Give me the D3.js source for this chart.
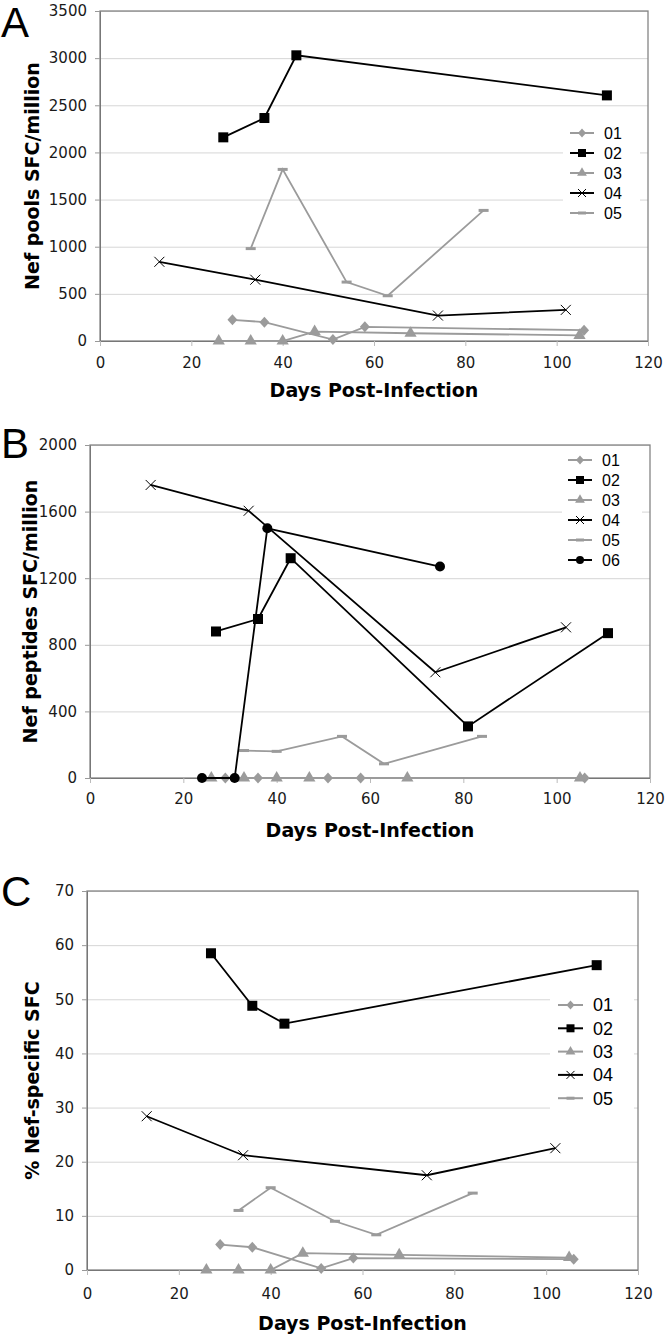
<!DOCTYPE html>
<html>
<head>
<meta charset="utf-8">
<script src="https://cdn.jsdelivr.net/npm/d3@7"></script>
<style>
  body { margin: 0; background: #fff; }
</style>
</head>
<body>
<div id="vis"></div>
<script>
// tick labels
const DAY_TICKS = [0, 20, 40, 60, 80, 100, 120];
const POOL_TICKS = [0, 500, 1000, 1500, 2000, 2500, 3000, 3500];
const PEPTIDE_TICKS = [0, 400, 800, 1200, 1600, 2000];
const PERCENT_TICKS = [0, 10, 20, 30, 40, 50, 60, 70];

// A: Nef pools SFC/million, [day, value]
const POOLS_01 = [[29, 225], [36, 200], [51, 15], [58, 150], [106, 115]];
const POOLS_02 = [[27, 2160], [36, 2365], [43, 3030], [111, 2605]];
const POOLS_03 = [[26, 0], [33, 0], [40, 0], [47, 100], [68, 82], [105, 60]];
const POOLS_04 = [[13, 840], [34, 650], [74, 270], [102, 330]];
const POOLS_05 = [[33, 980], [40, 1820], [54, 625], [63, 480], [84, 1385]];

// B: Nef peptides SFC/million
const PEPTIDES_01 = [[29, 0], [36, 0], [51, 0], [58, 0], [106, 0]];
const PEPTIDES_02 = [[27, 880], [36, 955], [43, 1320], [81, 310], [111, 870]];
const PEPTIDES_03 = [[26, 0], [33, 0], [40, 0], [47, 0], [68, 0], [105, 0]];
const PEPTIDES_04 = [[13, 1760], [34, 1605], [74, 635], [102, 905]];
const PEPTIDES_05 = [[33, 165], [40, 160], [54, 250], [63, 85], [84, 250]];
const PEPTIDES_06 = [[24, 0], [31, 0], [38, 1500], [75, 1270]];

// C: % Nef-specific SFC
const PERCENT_01 = [[29, 4.7], [36, 4.2], [51, 0.3], [58, 2.2], [106, 2.0]];
const PERCENT_02 = [[27, 58.5], [36, 48.8], [43, 45.5], [111, 56.3]];
const PERCENT_03 = [[26, 0], [33, 0], [40, 0], [47, 3.1], [68, 2.8], [105, 2.3]];
const PERCENT_04 = [[13, 28.4], [34, 21.2], [74, 17.5], [102, 22.5]];
const PERCENT_05 = [[33, 11], [40, 15.2], [54, 9], [63, 6.5], [84, 14.2]];

const GREY = "#9b9b9b";
const STYLE = {
  "01": {color: GREY, marker: "diamond"},
  "02": {color: "#000", marker: "square"},
  "03": {color: GREY, marker: "triangle"},
  "04": {color: "#000", marker: "x"},
  "05": {color: GREY, marker: "dash"},
  "06": {color: "#000", marker: "circle"}
};

const svg = d3.select("#vis")
              .append("svg")
                .attr("width", 666)
                .attr("height", 1337);

const PANELS = [
  {letter: "A", letterY: 37, left: 100, right: 648, top: 11, bottom: 341,
   ticks: POOL_TICKS, yTitle: "Nef pools SFC/million", titleX: 32, labelPad: 11, xTitleY: 397,
   series: {"01": POOLS_01, "02": POOLS_02, "03": POOLS_03, "04": POOLS_04, "05": POOLS_05},
   legend: {x: 570, y: 133, step: 20, box: [563, 122, 77, 102], font: 16}},
  {letter: "B", letterY: 458, left: 90, right: 650, top: 445, bottom: 778,
   ticks: PEPTIDE_TICKS, yTitle: "Nef peptides SFC/million", titleX: 30, labelPad: 10, xTitleY: 837,
   series: {"01": PEPTIDES_01, "02": PEPTIDES_02, "03": PEPTIDES_03, "04": PEPTIDES_04,
            "05": PEPTIDES_05, "06": PEPTIDES_06},
   legend: {x: 568, y: 460, step: 20, box: [562, 449, 80, 121], font: 16}},
  {letter: "C", letterY: 906, left: 87, right: 638, top: 891, bottom: 1270,
   ticks: PERCENT_TICKS, yTitle: "% Nef-specific SFC", titleX: 32, labelPad: 13, xTitleY: 1330,
   series: {"01": PERCENT_01, "02": PERCENT_02, "03": PERCENT_03, "04": PERCENT_04, "05": PERCENT_05},
   legend: {x: 558, y: 1005, step: 23.3, box: [550, 993, 84, 117], font: 18}}
];

function drawMarker(g, type, cx, cy, s, color) {
  const h = s / 2;
  if (type === "square") {
    g.append("rect").attr("x", cx - h).attr("y", cy - h)
      .attr("width", s).attr("height", s).attr("fill", color);
  } else if (type === "diamond") {
    g.append("path")
      .attr("d", `M${cx},${cy - h - 0.5}L${cx + h},${cy}L${cx},${cy + h + 0.5}L${cx - h},${cy}Z`)
      .attr("fill", color);
  } else if (type === "triangle") {
    g.append("path").attr("transform", `translate(${cx},${cy})`)
      .attr("d", d3.symbol(d3.symbolTriangle, s * s * 0.65)()).attr("fill", color);
  } else if (type === "circle") {
    g.append("circle").attr("cx", cx).attr("cy", cy).attr("r", h).attr("fill", color);
  } else if (type === "x") {
    g.append("path")
      .attr("d", `M${cx - h},${cy - h}L${cx + h},${cy + h}M${cx - h},${cy + h}L${cx + h},${cy - h}`)
      .attr("stroke", color).attr("stroke-width", 1).attr("fill", "none");
  } else if (type === "dash") {
    g.append("rect").attr("x", cx - h).attr("y", cy - 1.5)
      .attr("width", s).attr("height", 3).attr("fill", color);
  }
}

PANELS.forEach((p) => {
  const X_SCALE = d3.scaleLinear().domain([0, 120]).range([p.left, p.right]);
  const Y_SCALE = d3.scaleLinear().domain([0, d3.max(p.ticks)]).range([p.bottom, p.top]);
  const g = svg.append("g");

  // gridlines
  g.append("g")
    .attr("transform", "translate(" + p.left + ",0)")
    .call(d3.axisLeft(Y_SCALE).tickValues(p.ticks).tickSize(-(p.right - p.left)).tickFormat(""))
    .call((a) => a.select(".domain").remove())
    .call((a) => a.selectAll("line").attr("stroke", "#d6d6d6"));

  // plot border
  g.append("rect")
    .attr("x", p.left).attr("y", p.top)
    .attr("width", p.right - p.left).attr("height", p.bottom - p.top)
    .attr("fill", "none").attr("stroke", "#858585").attr("stroke-width", 1.3);

  // y axis
  const yAxis = g.append("g")
    .attr("transform", "translate(" + p.left + ",0)")
    .call(d3.axisLeft(Y_SCALE).tickValues(p.ticks).tickFormat(d3.format("d"))
            .tickSize(5).tickPadding(8).tickSizeOuter(0));
  yAxis.select(".domain").attr("stroke", "#777");
  yAxis.selectAll("line").attr("stroke", "#999");
  yAxis.selectAll("text").attr("font-family", "DejaVu Sans").attr("font-size", 15).attr("fill", "#1a1a1a");

  // x axis
  const xAxis = g.append("g")
    .attr("transform", "translate(0," + p.bottom + ")")
    .call(d3.axisBottom(X_SCALE).tickValues(DAY_TICKS).tickFormat(d3.format("d"))
            .tickSize(5).tickPadding(p.labelPad).tickSizeOuter(0));
  xAxis.select(".domain").attr("stroke", "#777");
  xAxis.selectAll("line").attr("stroke", "#bbb");
  xAxis.selectAll("text").attr("font-family", "DejaVu Sans").attr("font-size", 15).attr("fill", "#1a1a1a");

  // titles
  g.append("text")
    .attr("x", (p.left + p.right) / 2).attr("y", p.xTitleY)
    .attr("text-anchor", "middle")
    .attr("font-family", "DejaVu Sans").attr("font-weight", "bold").attr("font-size", 19)
    .text("Days Post-Infection");
  g.append("text")
    .attr("transform", "translate(" + p.titleX + "," + ((p.top + p.bottom) / 2) + ") rotate(-90)")
    .attr("text-anchor", "middle").attr("dy", "0.35em")
    .attr("font-family", "DejaVu Sans").attr("font-weight", "bold").attr("font-size", 19)
    .text(p.yTitle);
  svg.append("text")
    .attr("x", 1).attr("y", p.letterY)
    .attr("font-family", "Liberation Sans").attr("font-size", 42)
    .text(p.letter);

  // series
  const line = d3.line().x((d) => X_SCALE(d[0])).y((d) => Y_SCALE(d[1]));
  Object.keys(p.series).forEach((id) => {
    const st = STYLE[id];
    const pts = p.series[id];
    g.append("path")
      .attr("d", line(pts))
      .attr("fill", "none").attr("stroke", st.color).attr("stroke-width", 1.8);
    pts.forEach((d) => drawMarker(g, st.marker, X_SCALE(d[0]), Y_SCALE(d[1]), 10, st.color));
  });

  // legend
  const L = p.legend;
  const lg = g.append("g");
  lg.append("rect")
    .attr("x", L.box[0]).attr("y", L.box[1]).attr("width", L.box[2]).attr("height", L.box[3])
    .attr("fill", "#fff");
  const lineLen = L.font === 18 ? 25 : 24;
  Object.keys(p.series).forEach((id, i) => {
    const st = STYLE[id];
    const yy = L.y + i * L.step;
    lg.append("line")
      .attr("x1", L.x).attr("x2", L.x + lineLen).attr("y1", yy).attr("y2", yy)
      .attr("stroke", st.color).attr("stroke-width", 2);
    drawMarker(lg, st.marker, L.x + lineLen / 2, yy, 8, st.color);
    lg.append("text")
      .attr("x", L.x + lineLen + 10).attr("y", yy).attr("dy", "0.36em")
      .attr("font-family", "Liberation Sans").attr("font-size", L.font)
      .text(id);
  });
});
</script>
</body>
</html>
